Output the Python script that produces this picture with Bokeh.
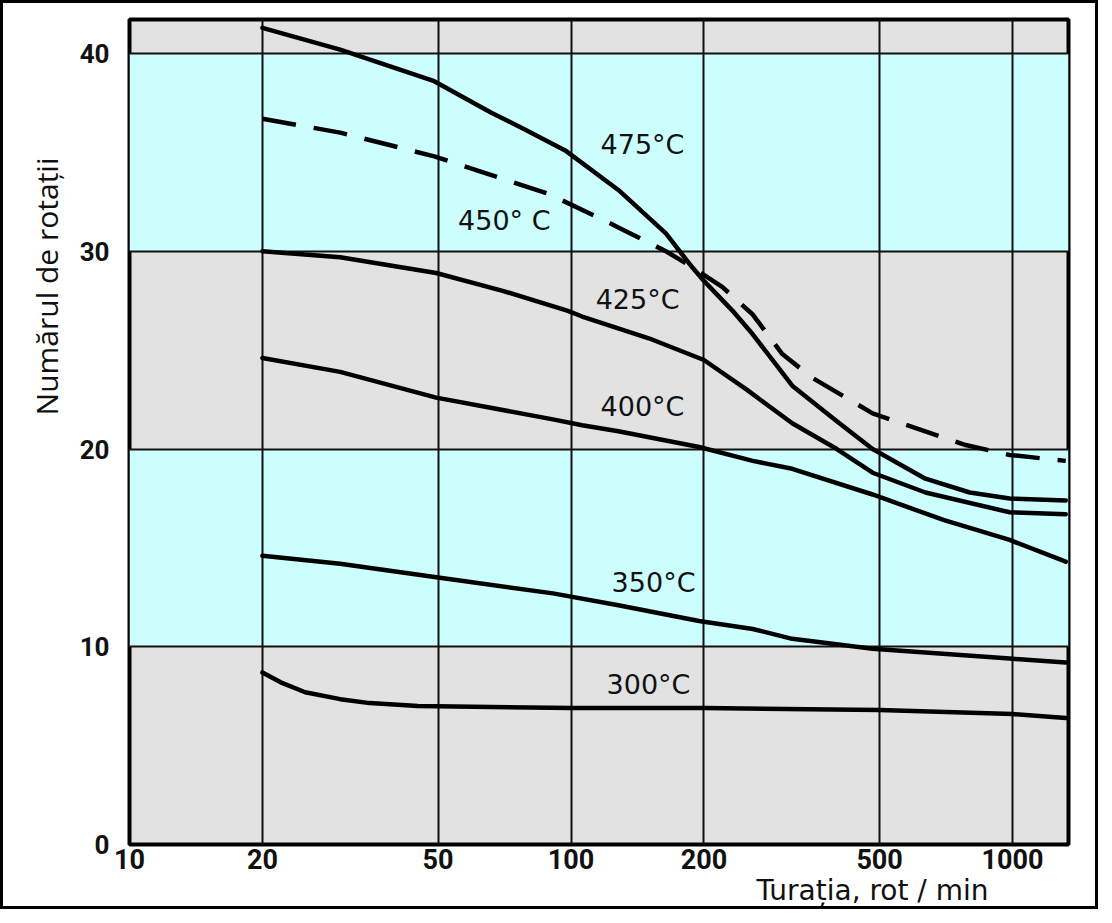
import math
from bokeh.plotting import figure
from bokeh.models import ColumnDataSource, BoxAnnotation, FixedTicker, Title, CustomJSTickFormatter
from bokeh.core.properties import value
from bokeh.embed import file_html
from bokeh.resources import INLINE

# ---- data ----
x_ticks = [10, 20, 50, 100, 200, 500, 1000]
y_ticks = [0, 10, 20, 30, 40]

t475_x = [20, 30, 49, 66, 78, 97, 128, 164, 188, 200, 232, 258, 317, 400, 482, 635, 800, 985, 1320]
t475_y = [41.3, 40.2, 38.6, 37.0, 36.2, 35.1, 33.1, 30.9, 29.2, 28.5, 27.0, 25.8, 23.2, 21.4, 20.0, 18.5, 17.8, 17.5, 17.4]

t450_x = [20, 30, 49, 65, 89, 118, 128, 164, 188, 220, 258, 301, 352, 482, 783, 985, 1320]
t450_y = [36.7, 36.0, 34.8, 33.9, 32.9, 31.6, 31.2, 30.0, 29.2, 28.2, 26.8, 24.8, 23.6, 21.8, 20.2, 19.7, 19.4]

t425_x = [20, 30, 49.5, 70, 98, 106, 150, 200, 250, 317, 400, 482, 635, 985, 1320]
t425_y = [30.0, 29.7, 28.9, 28.0, 27.0, 26.7, 25.6, 24.5, 23.0, 21.3, 20.0, 18.8, 17.8, 16.8, 16.7]

t400_x = [20, 30, 49.5, 91, 106, 128, 195, 258, 317, 482, 700, 985, 1320]
t400_y = [24.6, 23.9, 22.6, 21.5, 21.2, 20.9, 20.1, 19.4, 19.0, 17.7, 16.4, 15.4, 14.3]

t350_x = [20, 30, 50, 91, 128, 195, 258, 317, 482, 985, 1320]
t350_y = [14.6, 14.2, 13.5, 12.7, 12.1, 11.3, 10.9, 10.4, 9.9, 9.4, 9.2]

t300_x = [20, 22, 25, 30, 35, 45, 100, 200, 500, 1000, 1320]
t300_y = [8.7, 8.2, 7.7, 7.35, 7.15, 7.0, 6.9, 6.9, 6.8, 6.6, 6.4]

label_text = ["475°C", "450° C", "425°C", "400°C", "350°C", "300°C"]
label_x = [145.2, 70.6, 141.5, 145.2, 153.8, 149.8]
label_y = [35.4, 31.55, 27.56, 22.15, 13.25, 8.09]

band_bottom = [10, 30]
band_top = [20, 40]

x_title = "Turația, rot / min"
y_title = "Numărul de rotații"

GRAY = "#e2e2e2"
CYAN = "#ccfefe"

p = figure(width=1098, height=909, x_axis_type="log",
           x_range=(10, 1339), y_range=(0, 41.72),
           output_backend="svg", toolbar_location=None,
           min_border_left=126, min_border_right=33,
           min_border_top=16, min_border_bottom=68)
p.background_fill_color = GRAY
p.border_fill_color = "white"
p.outline_line_color = "black"
p.outline_line_width = 4
p.styles = {"border": "3px solid black"}

for b, t in zip(band_bottom, band_top):
    p.add_layout(BoxAnnotation(bottom=b, top=t, fill_color=CYAN, fill_alpha=1.0,
                               line_alpha=0, level="image"))

# grid
p.xgrid.ticker = FixedTicker(ticks=x_ticks[1:])
p.ygrid.ticker = FixedTicker(ticks=y_ticks[1:])
for g in (p.xgrid, p.ygrid):
    g.grid_line_color = "#111111"
    g.grid_line_width = 2
    g.grid_line_alpha = 1.0

# axes
p.xaxis.ticker = FixedTicker(ticks=x_ticks)
p.yaxis.ticker = FixedTicker(ticks=y_ticks)
for ax in (p.xaxis[0], p.yaxis[0]):
    ax.axis_line_color = None
    ax.major_tick_line_color = None
    ax.minor_tick_line_color = None
    ax.major_tick_out = 0
    ax.major_tick_in = 0
    ax.minor_tick_out = 0
    ax.major_label_text_font = "Roboto"
    ax.major_label_text_font_style = "bold"
    ax.major_label_text_color = "#111111"
p.xaxis.formatter = CustomJSTickFormatter(code="return Math.round(tick).toString();")
p.xaxis.major_label_text_font_size = "27px"
p.yaxis.major_label_text_font_size = "26px"
p.xaxis.major_label_standoff = 4
p.yaxis.major_label_standoff = 20

# curves
solid = [(t475_x, t475_y), (t425_x, t425_y), (t400_x, t400_y), (t350_x, t350_y), (t300_x, t300_y)]
for xs, ys in solid:
    p.line(xs, ys, line_color="black", line_width=4.5, line_join="round", line_cap="round")
p.line(t450_x, t450_y, line_color="black", line_width=4.5, line_dash="34 18", line_join="round")

src = ColumnDataSource(dict(x=label_x, y=label_y, t=label_text))
p.text(x="x", y="y", text="t", source=src, text_font=value("DejaVu Sans"),
       text_font_size="27px", text_align="center", text_baseline="middle",
       text_color="#111111")

p.add_layout(Title(text=x_title, align="right", offset=80, standoff=0,
                   text_font="DejaVu Sans", text_font_size="28px",
                   text_font_style="normal", text_color="#111111"), "below")
p.add_layout(Title(text=y_title, align="right", offset=138, standoff=20,
                   text_font="Open Sans", text_font_size="30px",
                   text_font_style="normal", text_color="#111111"), "left")

open("out.html", "w").write(file_html(p, INLINE))
